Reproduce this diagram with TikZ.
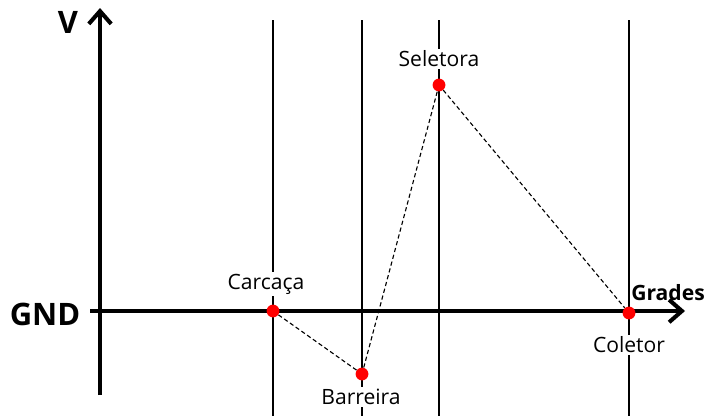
\documentclass[tikz,border=0pt]{standalone}
\usepackage{fontspec}
\setmainfont{Open Sans}
\usetikzlibrary{arrows.meta, positioning}
\tikzset{
  every picture/.style={x=0.025cm, y=-0.025cm},
  axis/.style={line width=2.9pt, -{Straight Barb[length=3.2mm, width=5.6mm, line width=2.9pt]}},
  grade/.style={line width=2pt},
  link/.style={line width=0.8pt, dash pattern=on 3pt off 2pt},
  dot/.style={circle, fill=red, inner sep=0pt, minimum size=0.32cm},
  tag/.style={fill=white, inner sep=1.5pt, font=\fontsize{15}{17}\selectfont},
  bold/.style={font=\bfseries\fontsize{#1}{#1}\selectfont},
}
\begin{document}
\begin{tikzpicture}
  \useasboundingbox (0,0) rectangle (707,416);
  % grid lines
  \foreach \gx in {273, 362, 439, 629}
    \draw[grade] (\gx,20) -- (\gx,416);
  % axes
  \draw[axis] (100,395) -- (100,8);
  \draw[axis] (90,311) -- (685,311);
  \node[bold=22] (v) at (68,22) {V};
  \node[bold=22] (gnd) at (45,314) {GND};
  \node[bold=15] (grades) at (668,293) {Grades};
  % points
  \node[dot] (carcaca) at (273,311) {};
  \node[dot] (barreira) at (362,374) {};
  \node[dot] (seletora) at (439,85) {};
  \node[dot] (coletor) at (629,313) {};
  \node[tag] at (266,284) {Carcaça};
  \node[tag] at (361,397) {Barreira};
  \node[tag] at (439,59) {Seletora};
  \node[tag] at (629,345) {Coletor};
  % links
  \draw[link] (carcaca) -- (barreira) -- (seletora) -- (coletor);
\end{tikzpicture}
\end{document}
